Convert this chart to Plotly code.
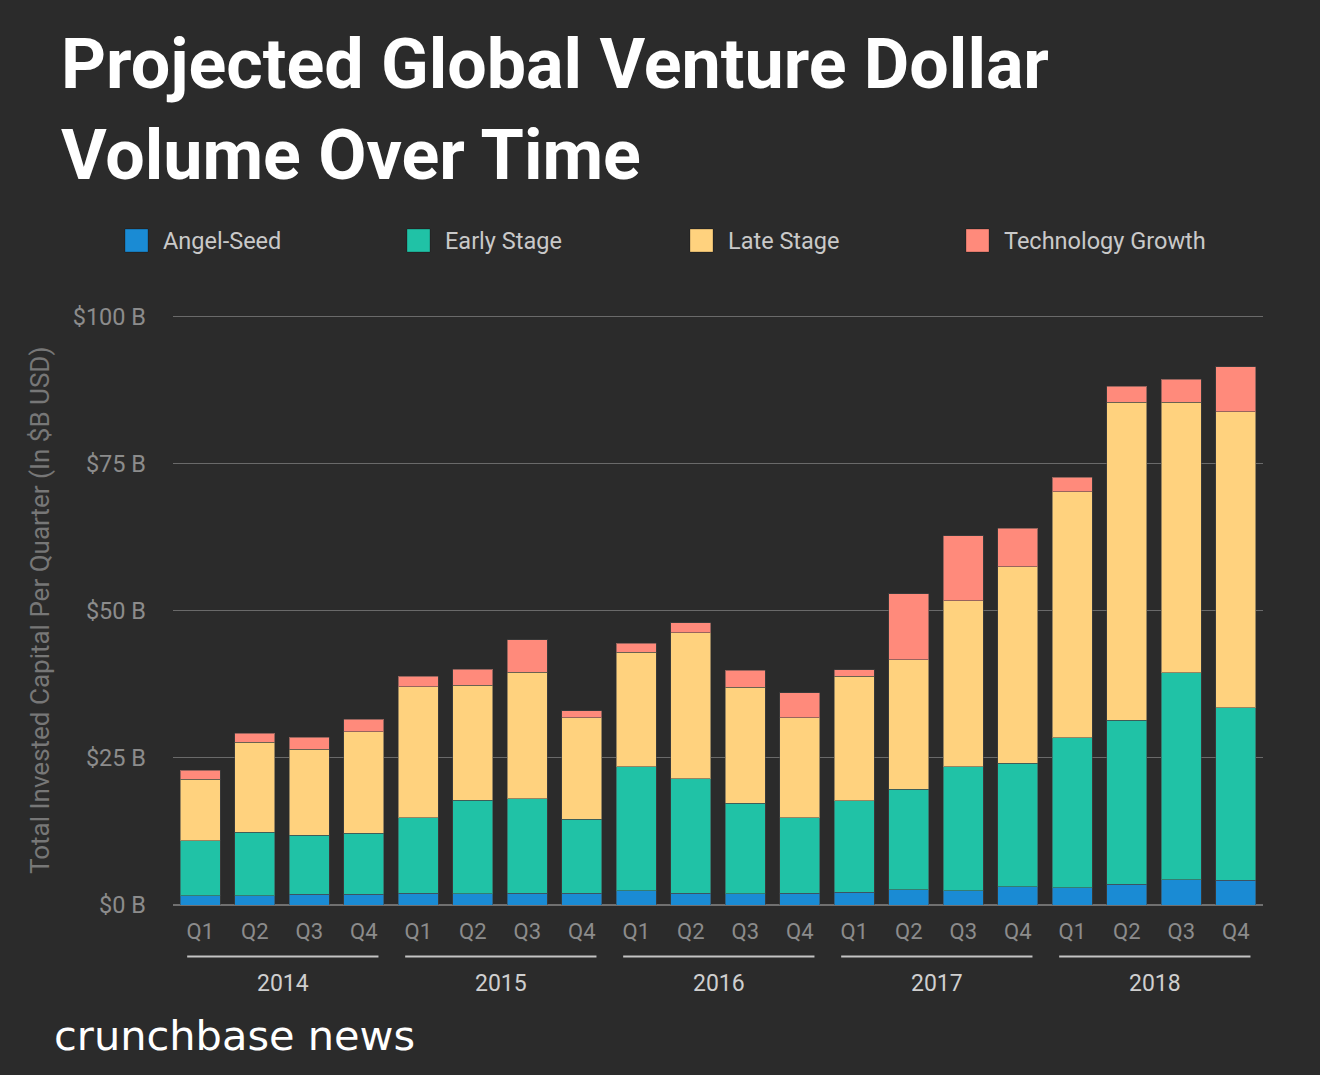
import plotly.graph_objects as go

years = ["2014", "2015", "2016", "2017", "2018"]
quarters = ["Q1", "Q2", "Q3", "Q4"]
categories = [f"{y} {q}" for y in years for q in quarters]
quarter_labels = [q for y in years for q in quarters]

angel_seed = [1.6, 1.6, 1.8, 1.8, 2.0, 1.9, 2.0, 2.0, 2.4, 2.0, 1.9, 2.0,
              2.2, 2.6, 2.4, 3.1, 2.9, 3.5, 4.3, 4.2]
early_stage = [9.3, 10.8, 10.1, 10.4, 12.8, 15.9, 16.1, 12.6, 21.1, 19.5, 15.4, 12.8,
               15.5, 17.1, 21.1, 21.0, 25.5, 27.9, 35.2, 29.3]
late_stage = [10.5, 15.3, 14.6, 17.3, 22.3, 19.6, 21.5, 17.2, 19.5, 24.8, 19.7, 17.0,
              21.2, 22.0, 28.2, 33.4, 41.9, 54.1, 46.0, 50.4]
tech_growth = [1.5, 1.5, 2.0, 2.1, 1.8, 2.7, 5.5, 1.2, 1.5, 1.7, 2.9, 4.3,
               1.1, 11.2, 11.1, 6.6, 2.4, 2.7, 3.9, 7.6]

series_names = ["Angel-Seed", "Early Stage", "Late Stage", "Technology Growth"]
series_values = [angel_seed, early_stage, late_stage, tech_growth]
colors = ["#1a8bd4", "#20c2a6", "#ffd27e", "#ff8a7b"]

y_ticks = [0, 25, 50, 75, 100]
y_tick_text = ["$0 B", "$25 B", "$50 B", "$75 B", "$100 B"]

W, H = 1320, 1075
L, R, T, B = 173, 57, 311, 170
PW, PH = W - L - R, H - T - B
YMAX = 101


def px2x(px):
    return (px - L) / PW


def py2y(py):
    return (H - B - py) / PH


BG = "#2b2b2b"
fig = go.Figure()
for name, vals, col in zip(series_names, series_values, colors):
    fig.add_trace(go.Bar(
        x=categories, y=vals, name=name,
        marker=dict(color=col, line=dict(color="rgba(70,70,70,0.55)", width=1)),
        showlegend=False,
    ))

shapes = []
annotations = []

# manual legend
legend_sq_x = [125, 407, 690, 966]
for name, col, sx in zip(series_names, colors, legend_sq_x):
    shapes.append(dict(type="rect", xref="paper", yref="paper",
                       x0=px2x(sx), x1=px2x(sx + 23), y0=py2y(229), y1=py2y(252),
                       fillcolor=col, line=dict(color="rgba(0,0,0,0.25)", width=1)))
    annotations.append(dict(text=name, xref="paper", yref="paper",
                            x=px2x(sx + 36), y=py2y(241), xanchor="left", yanchor="middle",
                            showarrow=False,
                            font=dict(family="Roboto", size=23.5, color="#c9c9c9")))

# year groups
n = len(categories)
for i, yr in enumerate(years):
    c0 = 4 * i
    shapes.append(dict(type="line", xref="paper", yref="paper",
                       x0=(c0 - 0.24 + 0.5) / n, x1=(c0 + 3.27 + 0.5) / n,
                       y0=py2y(956.5), y1=py2y(956.5),
                       line=dict(color="#c4c4c4", width=2)))
    annotations.append(dict(text=yr, xref="paper", yref="paper",
                            x=(c0 + 1.52 + 0.5) / n, y=py2y(983),
                            xanchor="center", yanchor="middle", showarrow=False,
                            font=dict(family="Roboto", size=23, color="#cfcfcf")))

# y axis title
annotations.append(dict(text="Total Invested Capital Per Quarter (In $B USD)",
                        xref="paper", yref="paper", x=px2x(40), y=py2y(611),
                        xanchor="center", yanchor="middle", textangle=-90,
                        showarrow=False,
                        font=dict(family="Roboto", size=26, color="#777777")))

# logo
annotations.append(dict(text="crunchbase news", xref="paper", yref="paper",
                        x=px2x(52), y=py2y(1035), xanchor="left", yanchor="middle",
                        showarrow=False,
                        font=dict(family="DejaVu Sans", size=41.5, color="#ffffff")))

fig.update_layout(
    width=W, height=H,
    margin=dict(l=L, r=R, t=T, b=B, autoexpand=False),
    paper_bgcolor=BG, plot_bgcolor=BG,
    barmode="stack", bargap=0.27,
    title=dict(text="Projected Global Venture Dollar<br>Volume Over Time",
               xref="container", yref="container", x=61 / W, xanchor="left",
               y=1 - 88 / H, yanchor="top",
               font=dict(family="Roboto", size=70, color="#ffffff", weight="bold")),
    shapes=shapes, annotations=annotations,
)
fig.update_xaxes(
    type="category", tickvals=categories, ticktext=quarter_labels,
    showgrid=False, ticks="", showline=False,
    tickfont=dict(family="Roboto", size=22, color="#8c8c8c"),
    ticklabelstandoff=11,
)
fig.update_yaxes(
    range=[0, YMAX], tickvals=y_ticks, ticktext=y_tick_text,
    showgrid=True, gridcolor="#6a6a6a", gridwidth=1,
    zeroline=True, zerolinecolor="#707070", zerolinewidth=2,
    ticks="", tickfont=dict(family="Roboto", size=23.5, color="#8c8c8c"),
    ticklabelstandoff=26,
)

fig.write_html("out.html")
